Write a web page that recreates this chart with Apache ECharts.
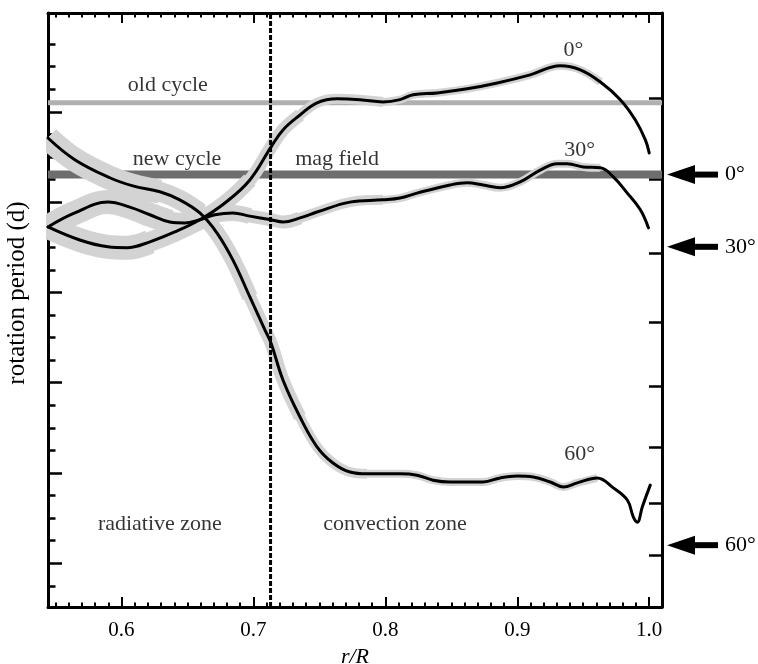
<!DOCTYPE html>
<html><head><meta charset="utf-8">
<script src="https://cdn.jsdelivr.net/npm/echarts@6/dist/echarts.min.js"></script>
<style>html,body{margin:0;padding:0;background:#fff}#c{width:758px;height:664px}</style>
</head><body><div id="c"></div>
<script>
const FONT = "'Liberation Serif','Times New Roman',serif";
// axis ranges: x = r/R, y = rotation frequency (nHz, linear); right ticks = period (d)
const rMin = 0.5443, rMax = 1.0097;
const fMin = 350.3, fMax = 481.9;
const xMajorTicks = [0.6, 0.7, 0.8, 0.9, 1.0];
const xMinorTicks = [0.55,0.56,0.57,0.58,0.59,0.61,0.62,0.63,0.64,0.65,0.66,0.67,0.68,0.69,0.71,0.72,0.73,0.74,0.75,0.76,0.77,0.78,0.79,0.81,0.82,0.83,0.84,0.85,0.86,0.87,0.88,0.89,0.91,0.92,0.93,0.94,0.95,0.96,0.97,0.98,0.99];
const yShortTicks = [355,365,370,375,385,390,395,405,410,415,425,430,435,445,450,455,465,470,475];
const yLongTicks = [360,380,400,420,440,460];
const periodTicks = [25,26,27,28,29,30,31,32];
const tachoclineR = 0.713;
const oldCycleF = 462.0;
const newCycleF = 446.1;

// 0 degree latitude
const lat0R = [0.5443,0.5684,0.5896,0.6040,0.6215,0.6404,0.6594,0.6784,0.6973,0.7133,0.7224,0.7353,0.7482,0.7634,0.7808,0.7982,0.8111,0.8210,0.8392,0.8620,0.8848,0.9098,0.9326,0.9478,0.9630,0.9781,0.9895,0.9971,1.0000];
const lat0F = [434.5,431.6,430.1,429.9,431.2,433.4,436.1,439.8,444.9,452.2,456.0,459.3,462.0,462.9,462.7,462.2,462.7,463.8,464.2,465.1,466.4,468.2,470.2,469.3,466.6,462.7,458.2,453.8,450.9];
// 30 degree latitude
const lat30R = [0.5443,0.5646,0.5896,0.6063,0.6215,0.6366,0.6480,0.6594,0.6708,0.6844,0.6973,0.7133,0.7224,0.7353,0.7482,0.7732,0.7982,0.8111,0.8240,0.8491,0.8620,0.8741,0.8870,0.9022,0.9174,0.9303,0.9379,0.9500,0.9630,0.9728,0.9834,0.9933,0.9994];
const lat30F = [434.5,437.6,440.0,438.9,437.2,435.6,435.4,436.1,437.2,437.6,436.9,436.1,435.6,436.5,437.8,440.0,440.5,440.9,442.0,443.8,444.3,443.8,443.2,444.5,447.1,448.5,448.5,447.8,447.6,445.6,442.0,438.3,434.3];
// 60 degree latitude
const lat60R = [0.5443,0.5646,0.5911,0.6086,0.6291,0.6442,0.6594,0.6723,0.6844,0.6973,0.7087,0.7133,0.7224,0.7353,0.7482,0.7603,0.7732,0.7861,0.8111,0.8240,0.8362,0.8491,0.8741,0.8870,0.9000,0.9121,0.9250,0.9349,0.9455,0.9606,0.9728,0.9834,0.9880,0.9910,0.9948,1.0008];
const lat60F = [454.2,449.4,445.4,443.6,442.3,440.5,437.6,433.2,427.2,419.0,411.7,408.8,400.6,392.4,385.8,382.2,380.2,379.8,379.8,379.5,378.4,378.0,378.0,378.9,379.3,379.1,378.0,376.9,377.8,378.9,376.7,374.0,370.2,369.1,372.5,377.3];

// surface rate arrows
const arrowLabels = ['0°', '30°', '60°'];
const arrowF = [446.1, 430.1, 364.0];

// text annotations
const noteText = ['old cycle','new cycle','mag field','0°','30°','60°','radiative zone','convection zone'];
const noteR = [0.6351,0.6421,0.7634,0.9425,0.9472,0.9472,0.6291,0.8074];
const noteF = [466.0,449.6,449.6,473.6,451.6,384.2,368.7,368.7];

const periodToF = p => 1e9 / (86400 * p);
const pairs = (R, F, lo, hi) => R.map((r, i) => [r, F[i]]).filter(d => d[0] >= lo && d[0] <= hi);

const curves = [[lat0R, lat0F], [lat30R, lat30F], [lat60R, lat60F]];
const series = [];
const HALO = '#d3d3d3';
// halo taper: [upper r limit, width]
const haloSteps = [[0.64, 24], [0.67, 20], [0.70, 16], [0.74, 13], [0.80, 10], [0.965, 8]];

// horizontal cycle bands
series.push({type:'line', silent:true, z:1, symbol:'none', data:[[rMin, oldCycleF],[rMax, oldCycleF]], lineStyle:{color:'#b0b0b0', width:5}});
series.push({type:'line', silent:true, z:1, symbol:'none', data:[[rMin, newCycleF],[rMax, newCycleF]], lineStyle:{color:'#6e6e6e', width:8}});

// halos (uncertainty)
curves.forEach(([R, F]) => {
  haloSteps.forEach(([hi, w]) => {
    series.push({type:'line', silent:true, z:2, symbol:'none', smooth:0.4, data:pairs(R, F, 0, hi), lineStyle:{color:HALO, width:w, cap:'butt', join:'round'}});
  });
});
// black curves
curves.forEach(([R, F]) => {
  series.push({type:'line', silent:true, z:3, symbol:'none', smooth:0.4, data:pairs(R, F, 0, 2), lineStyle:{color:'#000', width:3, cap:'round', join:'round'}});
});
// tachocline dashed line
series.push({type:'line', silent:true, z:4, symbol:'none', data:[[tachoclineR, fMin],[tachoclineR, fMax]], lineStyle:{color:'#000', width:3, type:[5,2]}});

// annotations
series.push({type:'scatter', silent:true, z:5, symbol:'circle', symbolSize:1, itemStyle:{color:'rgba(0,0,0,0)'},
  data: noteText.map((t, i) => ({name:t, value:[noteR[i], noteF[i]]})),
  label:{show:true, position:'inside', formatter:'{b}', fontFamily:FONT, fontSize:22, color:'#000', textBorderWidth:0, textShadowBlur:0}});

// arrows on right
series.push({type:'custom', silent:true, z:6, clip:false,
  data: arrowF.map((f, i) => [rMax, f, i]),
  renderItem: (params, api) => {
    const p = api.coord([api.value(0), api.value(1)]);
    const x0 = p[0] + 5, y = p[1];
    const i = api.value(2);
    return {type:'group', children:[
      {type:'polygon', shape:{points:[[x0, y],[x0+28, y-9.5],[x0+28, y+9.5]]}, style:{fill:'#000'}},
      {type:'rect', shape:{x:x0+26, y:y-3, width:25, height:6}, style:{fill:'#000'}},
      {type:'text', style:{text:arrowLabels[i], x:x0+58, y:y, font:'22px ' + FONT, fill:'#000', align:'left', verticalAlign:'middle', textAlign:'left', textVerticalAlign:'middle'}}
    ]};
  }});

const axisLineStyle = {color:'#000', width:3};
const option = {
  backgroundColor:'#fff',
  animation:false,
  grid:{left:48, top:13, width:614, height:594, containLabel:false, outerBoundsMode:'none'},
  xAxis:[
    {type:'value', position:'bottom', min:rMin, max:rMax, splitLine:{show:false},
     axisLine:{show:true, onZero:false, lineStyle:axisLineStyle},
     axisTick:{show:true, inside:true, length:10, lineStyle:{color:'#000', width:2}, customValues:xMajorTicks},
     axisLabel:{show:true, customValues:xMajorTicks, formatter:v => v.toFixed(1), fontFamily:FONT, fontSize:21, color:'#000', margin:13},
     name:'r/R', nameLocation:'middle', nameGap:36,
     nameTextStyle:{fontFamily:FONT, fontSize:22, fontStyle:'italic', color:'#000'}},
    {type:'value', position:'bottom', min:rMin, max:rMax, splitLine:{show:false},
     axisLine:{show:false, onZero:false},
     axisTick:{show:true, inside:true, length:4.5, lineStyle:{color:'#000', width:2}, customValues:xMinorTicks},
     axisLabel:{show:false}},
    {type:'value', position:'top', min:rMin, max:rMax, splitLine:{show:false},
     axisLine:{show:true, onZero:false, lineStyle:axisLineStyle},
     axisTick:{show:true, inside:true, length:10, lineStyle:{color:'#000', width:2}, customValues:xMajorTicks},
     axisLabel:{show:false}},
    {type:'value', position:'top', min:rMin, max:rMax, splitLine:{show:false},
     axisLine:{show:false, onZero:false},
     axisTick:{show:true, inside:true, length:4.5, lineStyle:{color:'#000', width:2}, customValues:xMinorTicks},
     axisLabel:{show:false}}
  ],
  yAxis:[
    {type:'value', position:'left', min:fMin, max:fMax, splitLine:{show:false},
     axisLine:{show:true, onZero:false, lineStyle:axisLineStyle},
     axisTick:{show:true, inside:true, length:7.5, lineStyle:{color:'#000', width:2.5}, customValues:yShortTicks},
     axisLabel:{show:false}},
    {type:'value', position:'left', min:fMin, max:fMax, splitLine:{show:false},
     axisLine:{show:false, onZero:false},
     axisTick:{show:true, inside:true, length:14, lineStyle:{color:'#000', width:2.5}, customValues:yLongTicks},
     axisLabel:{show:false}},
    {type:'value', position:'right', min:fMin, max:fMax, splitLine:{show:false},
     axisLine:{show:true, onZero:false, lineStyle:axisLineStyle},
     axisTick:{show:true, inside:true, length:13, lineStyle:{color:'#000', width:2.5}, customValues:periodTicks.map(periodToF)},
     axisLabel:{show:false}}
  ],
  graphic:[
    {type:'rect', z:100, shape:{x:0, y:0, width:46, height:664}, style:{fill:'#fff'}},
    {type:'text', x:17, y:293, rotation:Math.PI/2, z:101,
     style:{text:'rotation period (d)', font:'25px ' + FONT, fill:'#000', align:'center', verticalAlign:'middle', textAlign:'center', textVerticalAlign:'middle'}}
  ],
  series: series
};
const chart = echarts.init(document.getElementById('c'), null, {renderer:'canvas'});
chart.setOption(option);
</script></body></html>
